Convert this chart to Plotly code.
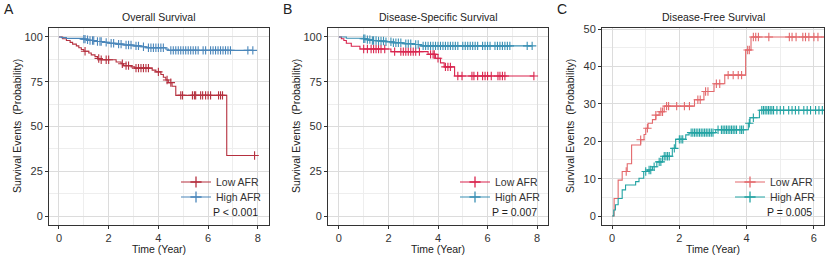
import plotly.graph_objects as go

W, H = 825, 257

# ---------------- data ----------------
# Panel A: Overall Survival (step curves: event times and survival %; censor times)
A_low_t = [0, 0.15, 0.3, 0.45, 0.55, 0.7, 0.8, 0.9, 1.0, 1.2, 1.3, 1.45, 1.55, 1.65, 2.3, 2.5, 2.6, 2.9, 3.05, 3.75, 3.9, 4.1, 4.2, 4.3, 4.4, 4.55, 4.7, 6.75]
A_low_s = [100, 99, 98, 97, 96, 95, 94, 93, 92, 91, 90, 89, 88, 87.3, 86, 85, 84, 83.3, 82.6, 81.5, 80.5, 79, 77.5, 76, 74.5, 72.5, 67.4, 33.8]
A_low_c = [1.05, 1.6, 1.7, 1.9, 2.0, 2.55, 2.7, 2.8, 3.1, 3.2, 3.3, 3.4, 3.5, 3.6, 4.0, 4.35, 4.5, 4.9, 4.97, 5.37, 5.45, 5.5, 5.7, 5.78, 5.9, 6.0, 6.1, 6.42, 6.5, 6.58, 7.87]
A_high_t = [0, 0.1, 0.3, 1.0, 1.1, 1.2, 1.5, 1.8, 2.0, 2.3, 2.6, 3.0, 3.3, 3.5, 4.3, 4.4]
A_high_s = [100, 99.6, 99.2, 98.8, 98.4, 98, 97.5, 97, 96.5, 96, 95.5, 95, 94.5, 94, 93.2, 92.5]
A_high_c = [1.0, 1.05, 1.15, 1.25, 1.35, 1.4, 1.55, 1.65, 1.7, 1.9, 2.1, 2.2, 2.4, 2.5, 2.7, 2.8, 2.9, 3.1, 3.2, 3.4, 3.6, 3.7,
            3.8, 3.9, 4.0, 4.1, 4.2, 4.5, 4.6, 4.7, 4.8, 4.9, 5.0, 5.1, 5.2, 5.3, 5.4, 5.5, 5.6, 5.8, 5.9, 6.1, 6.2, 6.3,
            6.4, 6.5, 6.6, 6.7, 6.8, 6.9, 7.6, 7.8]

# Panel B: Disease-Specific Survival
B_low_t = [0, 0.1, 0.2, 0.3, 0.5, 0.85, 2.1, 3.6, 3.9, 4.1, 4.25, 4.67]
B_low_s = [100, 99, 98, 96.5, 94.8, 93.3, 91.8, 90.3, 88.1, 85.5, 83.3, 78.2]
B_low_c = [1.0, 1.15, 1.3, 1.4, 1.5, 1.6, 1.7, 1.85, 2.25, 2.5, 2.6, 2.7, 2.8, 2.9, 3.0, 3.1, 3.25, 3.7, 3.8, 3.85, 4.0,
           4.3, 4.4, 4.5, 4.8, 4.97, 5.37, 5.45, 5.6, 5.8, 5.9, 6.0, 6.15, 6.42, 6.5, 6.6, 6.7, 7.87]
B_high_t = [0, 0.3, 1.0, 1.15, 1.3, 1.6, 1.9, 2.2, 2.6, 3.0, 3.3]
B_high_s = [100, 99.3, 99.0, 98.5, 98.0, 97.7, 97.3, 96.8, 96.3, 95.8, 95.0]
B_high_c = [1.0, 1.05, 1.15, 1.25, 1.35, 1.4, 1.5, 1.6, 1.7, 1.8, 1.9, 2.1, 2.2, 2.3, 2.4, 2.5, 2.7, 2.8, 2.9, 3.1, 3.2,
            3.4, 3.5, 3.6, 3.7, 3.8, 3.9, 4.0, 4.1, 4.2, 4.3, 4.4, 4.5, 4.6, 4.7, 4.8, 5.0, 5.1, 5.2, 5.3, 5.4, 5.5,
            5.6, 5.8, 5.9, 6.0, 6.1, 6.3, 6.4, 6.5, 6.6, 6.7, 6.8, 6.9, 7.6, 7.8]

# Panel C: Disease-Free Survival (cumulative events %)
C_low_t = [0, 0.06, 0.18, 0.3, 0.45, 0.58, 0.85, 0.95, 1.0, 1.07, 1.2, 1.3, 1.4, 1.55, 2.45, 2.73, 3.03, 3.35, 3.97, 4.13]
C_low_v = [0, 4.7, 9.6, 11.9, 14.0, 19.0, 20.4, 21.8, 23.5, 24.8, 25.8, 27.0, 27.9, 29.4, 31.1, 33.3, 35.4, 37.7, 44.4, 47.9]
C_low_c = [0.42, 0.85, 1.05, 1.3, 1.45, 1.5, 1.62, 1.68, 1.92, 2.15, 2.3, 2.55, 2.62, 2.78, 2.85, 3.1, 3.2, 3.45, 3.6,
           3.75, 3.85, 4.03, 4.08, 4.2, 4.27, 4.35, 4.66, 5.27, 5.35, 5.47, 5.67, 5.75, 5.85, 6.0, 6.12, 6.35]
C_high_t = [0, 0.05, 0.1, 0.18, 0.3, 0.4, 0.7, 0.8, 0.94, 1.05, 1.2, 1.33, 1.5, 1.79, 1.89, 2.19, 2.29, 3.08, 4.05, 4.1, 4.38]
C_high_v = [0, 1.6, 3.0, 4.7, 7.0, 8.3, 9.2, 10.1, 11.9, 12.3, 13.2, 14.5, 16.0, 18.1, 20.5, 21.7, 22.3, 23.1, 24.8, 26.3, 28.3]
C_high_c = [1.0, 1.1, 1.15, 1.25, 1.4, 1.45, 1.55, 1.6, 1.65, 1.7, 1.85, 2.0, 2.05, 2.1, 2.35, 2.4, 2.45, 2.5, 2.55, 2.6,
            2.65, 2.7, 2.75, 2.8, 2.85, 2.9, 2.95, 3.0, 3.15, 3.25, 3.3, 3.35, 3.4, 3.45, 3.5, 3.55, 3.6, 3.65, 3.7, 3.8,
            3.85, 3.9, 4.08, 4.2, 4.45, 4.5, 4.55, 4.6, 4.65, 4.7, 4.75, 4.8, 4.9, 5.0, 5.1, 5.25, 5.35, 5.45, 5.55, 5.7,
            5.8, 5.9, 6.05, 6.15, 6.25, 6.35]

titles = ["Overall Survival", "Disease-Specific Survival", "Disease-Free Survival"]
panel_letters = ["A", "B", "C"]
p_values = ["P < 0.001", "P = 0.007", "P = 0.005"]
group_names = ["Low AFR", "High AFR"]
x_ticks_AB = [0, 2, 4, 6, 8]
x_ticks_C = [0, 2, 4, 6]
y_ticks_AB = [0, 25, 50, 75, 100]
y_ticks_C = [0, 10, 20, 30, 40, 50]

colors = [("#B5303F", "#4A86BA"), ("#D9254E", "#3A90B4"), ("#E3696C", "#22A3A3")]

panels = [
    ((A_low_t, A_low_s, A_low_c), (A_high_t, A_high_s, A_high_c)),
    ((B_low_t, B_low_s, B_low_c), (B_high_t, B_high_s, B_high_c)),
    ((C_low_t, C_low_v, C_low_c), (C_high_t, C_high_v, C_high_c)),
]


def step_at(ts, vs, t):
    v = vs[0]
    for ti, vi in zip(ts, vs):
        if ti <= t:
            v = vi
    return v


# ---------------- layout geometry (pixels) ----------------
px_x = [(49, 269), (328, 548), (602, 824)]
px_top, px_bot = 28, 225
x_ranges = [[-0.4, 8.45], [-0.44, 8.44], [-0.3, 6.3]]
y_ranges = [[-5, 105], [-5, 105], [-2.4, 50.3]]

FONT = "Liberation Sans, Arial, sans-serif"
TXT = "#333333"

fig = go.Figure()
layout = dict(
    width=W, height=H, margin=dict(l=0, r=0, t=0, b=0, autoexpand=False),
    paper_bgcolor="white", plot_bgcolor="white",
    font=dict(family=FONT, color=TXT, size=11),
    showlegend=True,
)
annotations = []

leg_text_x = [216, 495, 770]
leg_y = [182, 197]

for i, (grp, (c_low, c_high)) in enumerate(zip(panels, colors)):
    xa = "x" if i == 0 else f"x{i+1}"
    ya = "y" if i == 0 else f"y{i+1}"
    xkey = "xaxis" if i == 0 else f"xaxis{i+1}"
    ykey = "yaxis" if i == 0 else f"yaxis{i+1}"
    for g, ((ts, vs, cs), col) in enumerate(zip(grp, (c_low, c_high))):
        end_t = max(cs)
        lx = list(ts) + [end_t]
        ly = list(vs) + [vs[-1]]
        fig.add_trace(go.Scatter(x=lx, y=ly, mode="lines", line=dict(color=col, width=1.1, shape="hv"),
                                 xaxis=xa, yaxis=ya, showlegend=False, hoverinfo="skip"))
        cy = [step_at(ts, vs, t) for t in cs]
        fig.add_trace(go.Scatter(x=cs, y=cy, mode="markers",
                                 marker=dict(symbol="cross-thin", size=6, line=dict(color=col, width=1.1), color=col),
                                 xaxis=xa, yaxis=ya, showlegend=False, hoverinfo="skip"))
        lg_idx = i * 2 + g + 1
        lg_key = "legend" if lg_idx == 1 else f"legend{lg_idx}"
        fig.add_trace(go.Scatter(x=[None], y=[None], mode="lines+markers", name=group_names[g],
                                 line=dict(color=col, width=1.1),
                                 marker=dict(symbol="cross-thin", size=8, line=dict(color=col, width=1.3), color=col),
                                 xaxis=xa, yaxis=ya, showlegend=True, legend=lg_key))
        layout[lg_key] = dict(
            x=(leg_text_x[i] - 40) / W, xanchor="left", xref="paper",
            y=1 - leg_y[g] / H, yanchor="middle", yref="paper",
            bgcolor="rgba(0,0,0,0)", borderwidth=0,
            font=dict(family=FONT, size=10.5, color=TXT),
            itemwidth=30, tracegroupgap=0,
        )

    x0, x1 = px_x[i]
    xt = x_ticks_C if i == 2 else x_ticks_AB
    yt = y_ticks_C if i == 2 else y_ticks_AB
    xminor = [v + (xt[1] - xt[0]) / 2 for v in xt]
    yminor = [v + (yt[1] - yt[0]) / 2 for v in yt]
    layout[xkey] = dict(
        domain=[x0 / W, x1 / W], range=x_ranges[i], anchor=ya,
        tickvals=xt, ticktext=[str(v) for v in xt],
        showgrid=True, gridcolor="#DCDCDC", gridwidth=1, zeroline=False,
        showline=True, linecolor="#333333", linewidth=1, mirror=True,
        ticks="outside", ticklen=3, tickcolor="#333333",
        tickfont=dict(size=11, color=TXT, family=FONT),
        minor=dict(tickvals=xminor, showgrid=True, gridcolor="#EEEEEE", gridwidth=0.8, ticks=""),
    )
    layout[ykey] = dict(
        domain=[1 - px_bot / H, 1 - px_top / H], range=y_ranges[i], anchor=xa,
        tickvals=yt, ticktext=[str(v) for v in yt],
        showgrid=True, gridcolor="#DCDCDC", gridwidth=1, zeroline=False,
        showline=True, linecolor="#333333", linewidth=1, mirror=True,
        ticks="outside", ticklen=3, tickcolor="#333333",
        tickfont=dict(size=11, color=TXT, family=FONT),
        minor=dict(tickvals=yminor, showgrid=True, gridcolor="#EEEEEE", gridwidth=0.8, ticks=""),
    )

    cx = (x0 + x1) / 2
    annotations.append(dict(text=titles[i], x=cx / W, y=1 - 17 / H, xref="paper", yref="paper",
                            showarrow=False, xanchor="center", yanchor="middle",
                            font=dict(size=10.5, family=FONT, color="#222222")))
    annotations.append(dict(text=panel_letters[i], x=(x0 - 47) / W, y=1 - 9 / H, xref="paper", yref="paper",
                            showarrow=False, xanchor="left", yanchor="middle",
                            font=dict(size=14, family=FONT, color="#222222")))
    annotations.append(dict(text="Time (Year)", x=cx / W, y=1 - 249 / H, xref="paper", yref="paper",
                            showarrow=False, xanchor="center", yanchor="middle",
                            font=dict(size=10.5, family=FONT, color="#222222")))
    annotations.append(dict(text="Survival Events  (Probability)", x=(x0 - 32) / W, y=1 - 126 / H,
                            xref="paper", yref="paper", showarrow=False, textangle=-90,
                            xanchor="center", yanchor="middle",
                            font=dict(size=10.5, family=FONT, color="#222222")))
    annotations.append(dict(text=p_values[i], x=(leg_text_x[i] + 44) / W, y=1 - 212 / H,
                            xref="paper", yref="paper", showarrow=False,
                            xanchor="right", yanchor="middle",
                            font=dict(size=10.5, family=FONT, color="#222222")))

layout["annotations"] = annotations
fig.update_layout(**layout)
fig.write_html("out.html", config={"displayModeBar": False},
               post_script="document.body.style.margin='0px';document.body.style.padding='0px';document.body.style.overflow='hidden';")
